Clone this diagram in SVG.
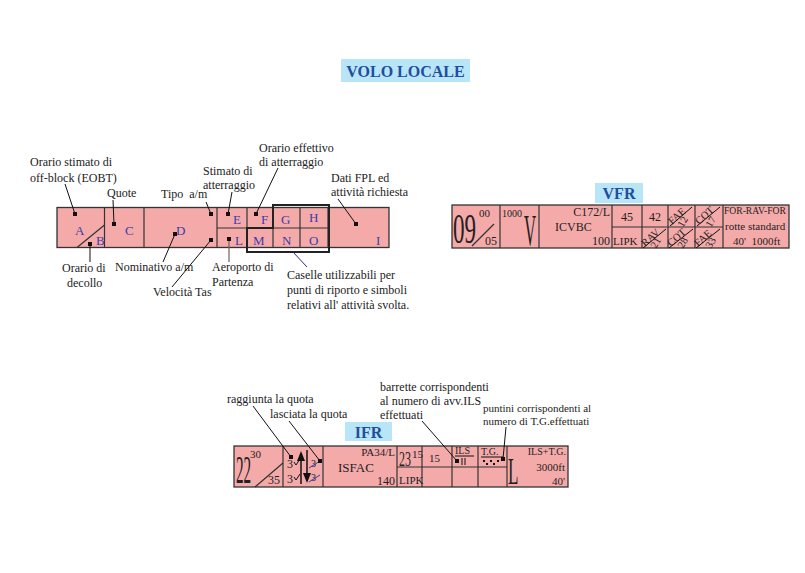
<svg xmlns="http://www.w3.org/2000/svg" width="805" height="573" viewBox="0 0 805 573">
<style>
.strip{fill:#f5aaaa;stroke:#333;stroke-width:1.3}
.ln{stroke:#333;stroke-width:1.2;fill:none}
.bold{stroke:#222;stroke-width:2;fill:none}
.lbl{font-family:"Liberation Serif",serif;font-size:12px;fill:#222}
.let{font-family:"Liberation Serif",serif;font-size:13px;fill:#3c3ca8}
.t{font-family:"Liberation Serif",serif;font-size:12px;fill:#222}
.s{font-family:"Liberation Serif",serif;font-size:10px;fill:#222}
.ttl{font-family:"Liberation Serif",serif;font-weight:bold;font-size:16px;fill:#1f4e9c}
.tbox{fill:#b9e5f9}
.con{stroke:#111;stroke-width:1;fill:none}
.dot{fill:#111}
</style>
<rect width="805" height="573" fill="#fff"/>

<g id="title">
<rect class="tbox" x="341" y="59" width="129" height="23"/>
<text class="ttl" x="405.5" y="76.5" text-anchor="middle">VOLO LOCALE</text>
</g>

<g id="strip-main">
<rect class="strip" x="57" y="207.5" width="332" height="40"/>
<line class="ln" x1="104.5" y1="207.5" x2="104.5" y2="247.5"/>
<line class="ln" x1="144" y1="207.5" x2="144" y2="247.5"/>
<line class="ln" x1="217" y1="207.5" x2="217" y2="247.5"/>
<line class="ln" x1="247" y1="207.5" x2="247" y2="247.5"/>
<line class="ln" x1="273" y1="207.5" x2="273" y2="247.5"/>
<line class="ln" x1="300" y1="207.5" x2="300" y2="247.5"/>
<line class="ln" x1="328" y1="207.5" x2="328" y2="247.5"/>
<line class="ln" x1="217" y1="228" x2="328" y2="228"/>
<line class="ln" x1="77" y1="247.5" x2="104.5" y2="225"/>
<path class="bold" d="M273 228 V205 H329 V252 H247 V228 Z"/>
<text class="let" x="75" y="235">A</text>
<text class="let" x="96" y="245">B</text>
<text class="let" x="125" y="235">C</text>
<text class="let" x="176" y="235">D</text>
<text class="let" x="233" y="224">E</text>
<text class="let" x="261" y="224">F</text>
<text class="let" x="281" y="224">G</text>
<text class="let" x="309" y="222">H</text>
<text class="let" x="376" y="245">I</text>
<text class="let" x="235" y="245">L</text>
<text class="let" x="253" y="245">M</text>
<text class="let" x="282" y="245">N</text>
<text class="let" x="309" y="245">O</text>
</g>

<g id="labels-main">
<text class="lbl" x="30" y="166">Orario stimato di</text>
<text class="lbl" x="30" y="182">off-block (EOBT)</text>
<text class="lbl" x="107" y="197">Quote</text>
<text class="lbl" x="161" y="198">Tipo&#160; a/m</text>
<text class="lbl" x="203" y="175">Stimato di</text>
<text class="lbl" x="203" y="189">atterraggio</text>
<text class="lbl" x="259" y="152">Orario effettivo</text>
<text class="lbl" x="259" y="166">di atterraggio</text>
<text class="lbl" x="331" y="182">Dati FPL ed</text>
<text class="lbl" x="331" y="196">attività richiesta</text>
<text class="lbl" x="62" y="272">Orario di</text>
<text class="lbl" x="67" y="287">decollo</text>
<text class="lbl" x="115" y="271">Nominativo a/m</text>
<text class="lbl" x="153" y="296">Velocità Tas</text>
<text class="lbl" x="212" y="271">Aeroporto di</text>
<text class="lbl" x="212" y="286">Partenza</text>
<text class="lbl" x="287" y="279">Caselle utilizzabili per</text>
<text class="lbl" x="287" y="294">punti di riporto e simboli</text>
<text class="lbl" x="287" y="309">relativi all' attività svolta.</text>
</g>

<g id="strip-vfr">
<rect class="tbox" x="595" y="183" width="48" height="20"/>
<text class="ttl" x="619" y="199" text-anchor="middle">VFR</text>
<rect class="strip" x="452" y="205" width="337" height="43"/>
<line class="ln" x1="500" y1="205" x2="500" y2="248"/>
<line class="ln" x1="539" y1="205" x2="539" y2="248"/>
<line class="ln" x1="612" y1="205" x2="612" y2="248"/>
<line class="ln" x1="642" y1="205" x2="642" y2="248"/>
<line class="ln" x1="668" y1="205" x2="668" y2="248"/>
<line class="ln" x1="695" y1="205" x2="695" y2="248"/>
<line class="ln" x1="723" y1="205" x2="723" y2="248"/>
<line class="ln" x1="612" y1="227" x2="723" y2="227"/>
<line class="ln" x1="472" y1="246" x2="494" y2="224"/>
<text class="t" transform="translate(453,243) scale(0.55,1)" style="font-size:42px">09</text>
<text class="s" x="479" y="217" style="font-size:11px">00</text>
<text class="t" x="485" y="245">05</text>
<text class="s" x="502" y="217">1000</text>
<text class="t" transform="translate(524,245) scale(0.38,1)" style="font-size:44px">V</text>
<text class="t" x="610" y="216" text-anchor="end">C172/L</text>
<text class="t" x="555" y="231">ICVBC</text>
<text class="t" x="610" y="245" text-anchor="end">100</text>
<text class="t" x="627" y="221" text-anchor="middle">45</text>
<text class="t" x="655" y="221" text-anchor="middle">42</text>
<text class="t" x="613" y="245" style="font-size:11px">LIPK</text>
<g class="s" style="font-size:10.5px">
<text transform="translate(672,225) rotate(-42)">FAE</text>
<line class="con" x1="670" y1="226" x2="692" y2="207"/>
<text transform="translate(683,228) rotate(-60)">12</text>
<text transform="translate(699,225) rotate(-42)">COT</text>
<line class="con" x1="697" y1="226" x2="720" y2="207"/>
<text transform="translate(711,228) rotate(-60)">17</text>
<text transform="translate(645,247) rotate(-42)">RAV</text>
<line class="con" x1="643" y1="248" x2="666" y2="229"/>
<text transform="translate(656,249) rotate(-60)">21</text>
<text transform="translate(671,247) rotate(-42)">COT</text>
<line class="con" x1="669" y1="248" x2="693" y2="229"/>
<text transform="translate(683,249) rotate(-60)">28</text>
<text transform="translate(698,247) rotate(-42)">FAE</text>
<line class="con" x1="696" y1="248" x2="720" y2="229"/>
<text transform="translate(711,249) rotate(-60)">33</text>
</g>
<text class="s" x="724" y="214" style="font-size:9.6px">FOR-RAV-FOR</text>
<text class="t" x="725" y="230" style="font-size:11px">rotte standard</text>
<text class="t" x="733" y="245" style="font-size:11px">40'&#160; 1000ft</text>
</g>

<g id="strip-ifr">
<rect class="tbox" x="345" y="422" width="47" height="19"/>
<text class="ttl" x="368.5" y="437.5" text-anchor="middle">IFR</text>
<rect class="strip" x="234" y="446" width="334" height="41"/>
<line class="ln" x1="283" y1="446" x2="283" y2="487"/>
<line class="ln" x1="323" y1="446" x2="323" y2="487"/>
<line class="ln" x1="397" y1="446" x2="397" y2="487"/>
<line class="ln" x1="422" y1="446" x2="422" y2="487"/>
<line class="ln" x1="452" y1="446" x2="452" y2="487"/>
<line class="ln" x1="478" y1="446" x2="478" y2="487"/>
<line class="ln" x1="507" y1="446" x2="507" y2="487"/>
<line class="ln" x1="397" y1="467" x2="507" y2="467"/>
<line class="ln" x1="255" y1="487" x2="283" y2="463"/>
<text class="t" transform="translate(236,483) scale(0.38,1)" style="font-size:40px">22</text>
<text class="s" x="250" y="458" style="font-size:11px">30</text>
<text class="t" x="268" y="484">35</text>
<text class="t" x="287" y="468">3</text>
<path class="con" d="M294 462 l2 3 l4 -6"/>
<text class="t" x="287" y="483">3</text>
<path class="con" d="M294 477 l2 3 l4 -6"/>
<line x1="301" y1="460" x2="301" y2="484" stroke="#111" stroke-width="1.5"/>
<polygon points="301,451 297,461 305,461" fill="#111"/>
<line x1="307" y1="450" x2="307" y2="474" stroke="#111" stroke-width="1.5"/>
<polygon points="307,483 303,473 311,473" fill="#111"/>
<text class="t" x="311" y="467" style="font-size:10px">3</text>
<text class="t" x="311" y="481" style="font-size:10px">3</text>
<line x1="309" y1="468" x2="320" y2="461" stroke="#3c3ca8" stroke-width="1"/>
<line x1="309" y1="482" x2="320" y2="475" stroke="#3c3ca8" stroke-width="1"/>
<text class="t" x="395" y="456" text-anchor="end" style="font-size:11px">PA34/L</text>
<text class="t" x="338" y="472" style="font-size:13px">ISFAC</text>
<text class="t" x="395" y="485" text-anchor="end">140</text>
<text class="t" transform="translate(399,466) scale(0.6,1)" style="font-size:20px">23</text>
<text class="s" x="412" y="458" style="font-size:11px">15</text>
<text class="t" x="399" y="484" style="font-size:11px">LIPK</text>
<text class="t" x="429" y="462" style="font-size:11px">15</text>
<text class="s" x="455" y="454">ILS</text>
<line class="con" x1="455" y1="456" x2="474" y2="456"/>
<line class="con" x1="462" y1="458" x2="462" y2="465"/>
<line class="con" x1="465" y1="458" x2="465" y2="465"/>
<text class="s" x="481" y="455">T.G.</text>
<line class="con" x1="481" y1="457" x2="503" y2="457"/>
<rect class="dot" x="483" y="460" width="2" height="2"/>
<rect class="dot" x="490" y="460" width="2" height="2"/>
<rect class="dot" x="497" y="460" width="2" height="2"/>
<rect class="dot" x="486" y="463" width="2" height="2"/>
<rect class="dot" x="493" y="463" width="2" height="2"/>
<text class="t" transform="translate(508,484) scale(0.45,1)" style="font-size:38px">L</text>
<text class="s" x="566" y="455" text-anchor="end">ILS+T.G.</text>
<text class="t" x="565" y="471" text-anchor="end" style="font-size:11px">3000ft</text>
<text class="t" x="565" y="485" text-anchor="end" style="font-size:11px">40'</text>
</g>

<g id="labels-ifr">
<text class="lbl" x="227" y="403">raggiunta la quota</text>
<text class="lbl" x="270" y="418">lasciata la quota</text>
<text class="lbl" x="380" y="391">barrette corrispondenti</text>
<text class="lbl" x="380" y="405">al numero di avv.ILS</text>
<text class="lbl" x="380" y="419">effettuati</text>
<text class="lbl" x="483" y="412" style="font-size:11px">puntini corrispondenti al</text>
<text class="lbl" x="483" y="425" style="font-size:11px">numero di T.G.effettuati</text>
</g>

<g id="connectors">
<line class="con" x1="65" y1="184" x2="75" y2="214"/><rect class="dot" x="73" y="212" width="4" height="4"/>
<line class="con" x1="113" y1="200" x2="114" y2="224"/><rect class="dot" x="112" y="222" width="4" height="4"/>
<line class="con" x1="206" y1="202" x2="211" y2="214"/><rect class="dot" x="209" y="212" width="4" height="4"/>
<line class="con" x1="90" y1="262" x2="90" y2="244"/><rect class="dot" x="88" y="242" width="4" height="4"/>
<line class="con" x1="163" y1="262" x2="175" y2="234"/><rect class="dot" x="173" y="232" width="4" height="4"/>
<line class="con" x1="172" y1="287" x2="211" y2="240"/><rect class="dot" x="209" y="238" width="4" height="4"/>
<line class="con" x1="232" y1="192" x2="228" y2="214"/><rect class="dot" x="226" y="212" width="4" height="4"/>
<line class="con" x1="278" y1="168" x2="256" y2="214"/><rect class="dot" x="254" y="212" width="4" height="4"/>
<line x1="229" y1="262" x2="229" y2="239" stroke="#666" stroke-width="1.2"/><rect class="dot" x="227" y="237" width="4" height="4"/>
<line class="con" x1="338" y1="199" x2="356" y2="224"/><rect class="dot" x="354" y="222" width="4" height="4"/>
<line x1="293" y1="252" x2="307" y2="267" stroke="#2a2a80" stroke-width="1"/>
<line class="con" x1="253" y1="406" x2="291" y2="457"/><rect class="dot" x="289" y="455" width="4" height="4"/>
<line class="con" x1="289" y1="421" x2="320" y2="461"/><rect class="dot" x="318" y="459" width="4" height="4"/>
<line class="con" x1="422" y1="421" x2="457" y2="461"/><rect class="dot" x="455" y="459" width="4" height="4"/>
<line class="con" x1="506" y1="427" x2="503" y2="459"/><rect class="dot" x="501" y="457" width="4" height="4"/>
</g>
</svg>
